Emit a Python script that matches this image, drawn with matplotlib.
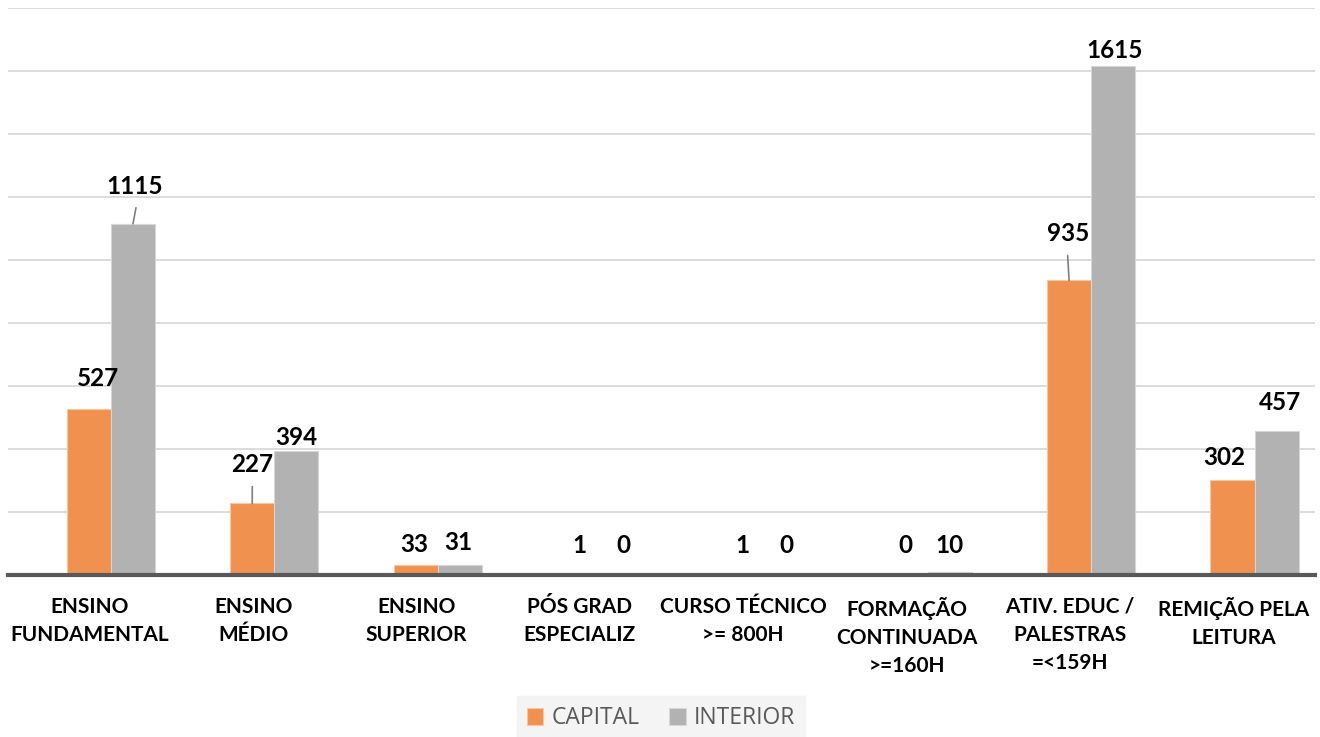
import matplotlib.pyplot as plt
import numpy as np

categorias = ["ENSINO\nFUNDAMENTAL", "ENSINO\nMÉDIO", "ENSINO\nSUPERIOR", "PÓS GRAD\nESPECIALIZ",
              "CURSO TÉCNICO\n>= 800H", "FORMAÇÃO\nCONTINUADA\n>=160H", "ATIV. EDUC /\nPALESTRAS\n=<159H",
              "REMIÇÃO PELA\nLEITURA"]
capital = [527, 227, 33, 1, 1, 0, 935, 302]
interior = [1115, 394, 31, 0, 0, 10, 1615, 457]

# deslocamento dos rótulos (pixels) -- ajustado à mão
off_cap = [(9, 19), (0, 27), (-1, 9), (0, 18), (0, 18), (0, 18), (-1, 35), (-8, 11)]
off_int = [(2, 26), (0, 2), (-1, 11), (0, 18), (0, 18), (0, 15), (1, 4), (3, 17)]
leader_cap = [False, True, False, False, False, False, True, False]
leader_int = [True, False, False, False, False, False, False, False]

cor_cap = "#F0914F"
cor_int = "#B2B2B2"

fig = plt.figure(figsize=(13.2, 7.37), dpi=100)
ax = fig.add_axes([8 / 1320, 162 / 737, 1307 / 1320, 567 / 737])

x = np.arange(len(categorias))
w = 0.27
xb = x + 0.13  # barras ficam um pouco à direita do rótulo
b1 = ax.bar(xb - w / 2, capital, w, color=cor_cap, edgecolor="#F7C6A3", linewidth=0.8, zorder=3, label="CAPITAL")
b2 = ax.bar(xb + w / 2, interior, w, color=cor_int, edgecolor="#D6D6D6", linewidth=0.8, zorder=3, label="INTERIOR")

ax.set_xlim(-0.5, 7.5)
ax.set_ylim(0, 1800)
ax.set_yticks(np.arange(0, 1801, 200))
ax.yaxis.grid(True, color="#D9D9D9", linewidth=1.3, zorder=0)
ax.tick_params(axis="y", left=False, labelleft=False)
ax.tick_params(axis="x", bottom=False, pad=12)
for s in ["top", "right", "left"]:
    ax.spines[s].set_visible(False)
ax.spines["bottom"].set_color("#595959")
ax.spines["bottom"].set_linewidth(3)
ax.spines["bottom"].set_zorder(5)

ax.set_xticks(x)
ax.set_xticklabels(categorias, fontfamily="Lato", fontweight="bold", fontsize=15,
                   linespacing=1.5, va="top", color="black")


def rotular(xs, vals, offs, leaders):
    for xi, v, (dx, dy), ld in zip(xs, vals, offs, leaders):
        ax.annotate(str(v), (xi, v), xytext=(dx, dy), textcoords="offset pixels",
                    ha="center", va="bottom", fontfamily="Lato", fontweight="bold",
                    fontsize=17.5, color="black", zorder=6)
        if ld:
            ax.annotate("", (xi, v), xytext=(dx * 1.5, dy - 10), textcoords="offset pixels",
                        arrowprops=dict(arrowstyle="-", color="#7F7F7F", lw=1.2, shrinkA=0, shrinkB=0))


rotular(xb - w / 2, capital, off_cap, leader_cap)
rotular(xb + w / 2, interior, off_int, leader_int)

leg = fig.legend(handles=[b1, b2], loc="lower center", bbox_to_anchor=(661 / 1320, -0.005), ncol=2,
                 frameon=True, fancybox=False, facecolor="#F2F2F2", edgecolor="#F2F2F2",
                 prop={"family": "Open Sans", "size": 16.5}, handlelength=0.72, handleheight=0.72,
                 handletextpad=0.35, columnspacing=1.3, borderpad=0.45, borderaxespad=0)
for t in leg.get_texts():
    t.set_color("#595959")

fig.savefig("out.png", dpi=100, facecolor="white")
